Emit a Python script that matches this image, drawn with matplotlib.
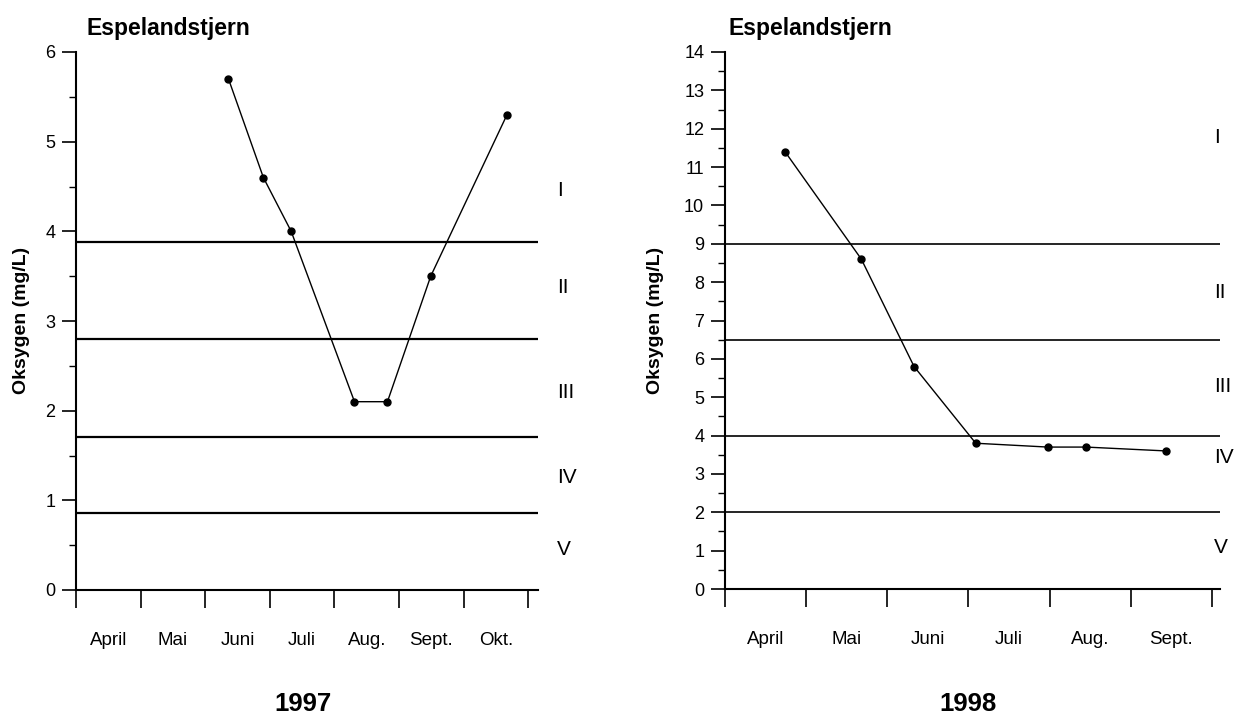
import matplotlib
matplotlib.use("Agg")
import matplotlib.pyplot as plt
import numpy as np

plt.rcParams['font.family'] = ['Liberation Sans', 'DejaVu Sans']

# 1997 panel
months_97 = ['April', 'Mai', 'Juni', 'Juli', 'Aug.', 'Sept.', 'Okt.']
x_97 = [2.36, 2.90, 3.33, 4.31, 4.82, 5.49, 6.67]   # months since 1 April
oxy_97 = [5.7, 4.6, 4.0, 2.1, 2.1, 3.5, 5.3]
limits_97 = [3.88, 2.80, 1.71, 0.86]
classy_97 = [4.46, 3.37, 2.20, 1.26, 0.45]

# 1998 panel
months_98 = ['April', 'Mai', 'Juni', 'Juli', 'Aug.', 'Sept.']
x_98 = [0.74, 1.68, 2.33, 3.09, 3.98, 4.45, 5.43]
oxy_98 = [11.4, 8.6, 5.8, 3.8, 3.7, 3.7, 3.6]
limits_98 = [9, 6.5, 4, 2]
classy_98 = [11.78, 7.74, 5.27, 3.44, 1.09]

classes = ['I', 'II', 'III', 'IV', 'V']

W, H = 1237, 718
fig = plt.figure(figsize=(W / 100, H / 100), dpi=100)


def px(x0, y0, x1, y1):
    return [x0 / W, 1 - y1 / H, (x1 - x0) / W, (y1 - y0) / H]


def panel(rect, months, xs, ys, limits, cy, ymax, xmax, lw_lim, cx, year, yearx, titlex, ylabx):
    ax = fig.add_axes(rect)
    for v in limits:
        ax.axhline(v, color='black', lw=lw_lim, zorder=1)
    ax.plot(xs, ys, color='black', lw=1.0, marker='o', ms=5, zorder=3)
    ax.set_xlim(0, xmax)
    ax.set_ylim(0, ymax)
    ax.spines['top'].set_visible(False)
    ax.spines['right'].set_visible(False)
    for s in ['left', 'bottom']:
        ax.spines[s].set_linewidth(1.5)
    ax.set_yticks(np.arange(0, ymax + 1, 1))
    ax.set_yticks(np.arange(0.5, ymax, 1), minor=True)
    ax.tick_params(axis='y', which='major', length=10, width=1.2, pad=5, labelsize=13)
    ax.tick_params(axis='y', which='minor', length=5, width=1.0)
    n = len(months)
    ax.set_xticks(np.arange(0, n + 1))
    ax.set_xticklabels([])
    ax.set_xticks(np.arange(n) + 0.5, minor=True)
    ax.set_xticklabels(months, minor=True)
    ax.tick_params(axis='x', which='major', length=13, width=1.2)
    ax.tick_params(axis='x', which='minor', length=0, pad=30, labelsize=13.5)
    for lab, yv in zip(classes, cy):
        ax.text(cx, yv, lab, fontsize=15, ha='left', va='center', clip_on=False)
    fig.text(titlex / W, 1 - 28 / H, 'Espelandstjern', fontsize=16.5, fontweight='bold',
             ha='left', va='center')
    fig.text(yearx / W, 1 - 704 / H, year, fontsize=18.5, fontweight='bold',
             ha='center', va='center')
    fig.text(ylabx / W, 1 - 320 / H, 'Oksygen (mg/L)', fontsize=14, fontweight='bold',
             rotation=90, ha='center', va='center')
    return ax


panel(px(76, 52, 538, 590), months_97, x_97, oxy_97, limits_97, classy_97,
      6, 7.15, 1.6, 7.45, '1997', 303, 86, 22)
panel(px(725, 52, 1220, 589), months_98, x_98, oxy_98, limits_98, classy_98,
      14, 6.1, 1.2, 6.03, '1998', 968, 728, 656)

fig.savefig('out.png', dpi=100)
